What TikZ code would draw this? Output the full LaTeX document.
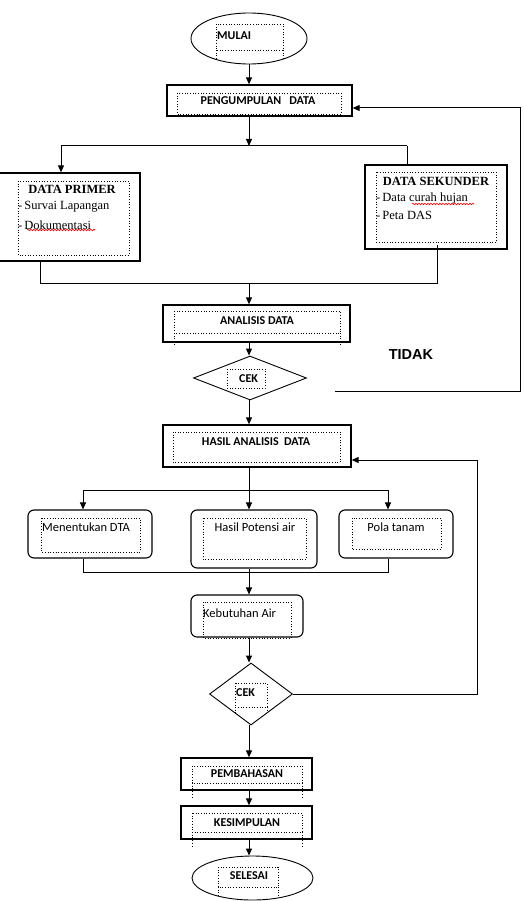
\documentclass[tikz,border=0pt]{standalone}
\usepackage{fontspec}
\setmainfont{Carlito}
\newfontfamily\tnr{Liberation Serif}
\newfontfamily\arialf{Liberation Sans}
\usetikzlibrary{shapes.geometric,arrows.meta,decorations.pathmorphing}
\begin{document}
\begin{tikzpicture}[x=1pt,y=-1pt,
 box/.style={draw,line width=1.3pt,rectangle,inner sep=0pt},
 rbox/.style={draw,line width=1.1pt,rectangle,rounded corners=6pt,inner sep=0pt},
 oval/.style={draw,line width=0.9pt,ellipse,inner sep=0pt},
 dia/.style={draw,line width=0.9pt,diamond,inner sep=0pt},
 dotbox/.style={dotted,line width=0.7pt},
 arr/.style={line width=1pt,-{Triangle[length=7pt,width=6pt]}},
 ln/.style={line width=1pt},
 bt/.style={font=\bfseries\fontsize{12}{14}\selectfont,inner sep=0pt},
 rt/.style={font=\fontsize{12.5}{15}\selectfont,inner sep=0pt},
 tb/.style={font=\tnr\bfseries\fontsize{12.5}{15}\selectfont,inner sep=0pt},
 tr/.style={font=\tnr\fontsize{12.5}{15}\selectfont,inner sep=0pt},
 wavy/.style={red,line width=0.6pt,decorate,decoration={snake,amplitude=0.8pt,segment length=3pt}}
]
\useasboundingbox (0,0) rectangle (524,901);
\coordinate (ax) at (249,0);

% shapes
\node[oval,minimum width=116pt,minimum height=51pt] (mulai) at (249,38.5) {};
\node[box,minimum width=185pt,minimum height=31pt] (peng) at (259.5,100.5) {};
\node[box,minimum width=150pt,minimum height=88pt] (prim) at (65,217) {};
\node[box,minimum width=142pt,minimum height=84pt] (sek) at (436,207) {};
\node[box,minimum width=187pt,minimum height=37pt] (anal) at (256.5,323.5) {};
\node[dia,minimum width=113pt,minimum height=44pt] (cek1) at (250,378) {};
\node[box,minimum width=188pt,minimum height=42pt] (hasil) at (257,446) {};
\node[rbox,minimum width=124pt,minimum height=48pt] (dta) at (90,534) {};
\node[rbox,minimum width=126pt,minimum height=58pt] (pot) at (254,539) {};
\node[rbox,minimum width=114pt,minimum height=48pt] (pola) at (396,534) {};
\node[rbox,minimum width=112pt,minimum height=42pt] (keb) at (247,616) {};
\node[dia,minimum width=83pt,minimum height=62pt] (cek2) at (251,694) {};
\node[box,minimum width=131pt,minimum height=32pt] (pemb) at (246.5,774) {};
\node[box,minimum width=131pt,minimum height=33pt] (kes) at (246.5,822.5) {};
\node[oval,minimum width=121pt,minimum height=44pt] (sel) at (252.5,878) {};

% dotted inner text frames
\draw[dotbox] (216,24) rectangle (283,50);
\draw[dotbox] (216,50) -- (216,60) (283,50) -- (283,60);
\draw[dotbox] (177,93) rectangle (341,114);
\draw[dotbox] (18,181) rectangle (129,255);
\draw[dotbox] (376,172) rectangle (496,242);
\draw[dotbox] (174,311) rectangle (340,333);
\draw[dotbox] (174,333) -- (174,345) (340,333) -- (340,345);
\draw[dotbox] (227,369) rectangle (265,388);
\draw[dotbox] (173,432) rectangle (340,462);
\draw[dotbox] (41,518) rectangle (140,552);
\draw[dotbox] (203,518) rectangle (306,559);
\draw[dotbox] (352,518) rectangle (441,549);
\draw[dotbox] (203,602) rectangle (291,638);
\draw[dotbox] (235,683) rectangle (267,707);
\draw[dotbox] (235,707) -- (235,713) (267,707) -- (267,713);
\draw[dotbox] (192,766) rectangle (302,783);
\draw[dotbox] (192,783) -- (192,797) (302,783) -- (302,797);
\draw[dotbox] (192,813) rectangle (302,832);
\draw[dotbox] (192,832) -- (192,848) (302,832) -- (302,848);
\draw[dotbox] (218,867) rectangle (278,887);
\draw[dotbox] (218,887) -- (218,897) (278,887) -- (278,897);

% texts
\node[bt,anchor=west] (tmulai) at (217,36) {MULAI};
\node[bt] (tpeng) at (258,101) {PENGUMPULAN\ \ \ DATA};
\node[tb] (tprim) at (72,189) {DATA PRIMER};
\node[tr,anchor=west] (tprim1) at (18,207) {-\,Survai Lapangan};
\node[tr,anchor=west] (tprim2) at (18,225) {-\,Dokumentasi};
\node[tb] (tsek) at (436,181) {DATA SEKUNDER};
\node[tr,anchor=west] (tsek1) at (376,198) {-\,Data curah hujan};
\node[tr,anchor=west] (tsek2) at (376,215) {-\,Peta DAS};
\node[bt] (tanal) at (257,321) {ANALISIS DATA};
\node[font=\arialf\bfseries\fontsize{14.5}{17}\selectfont,inner sep=0pt] (ttidak) at (411,355) {TIDAK};
\node[bt,anchor=west] (tcek1) at (239,379) {CEK};
\node[bt] (thasil) at (256,442) {HASIL ANALISIS\ \ DATA};
\node[rt,anchor=west] (tdta) at (42,527) {Menentukan DTA};
\node[rt] (tpot) at (255,527) {Hasil Potensi air};
\node[rt] (tpola) at (396,527) {Pola tanam};
\node[rt,anchor=west] (tkeb) at (203,613) {Kebutuhan Air};
\node[bt,anchor=west] (tcek2) at (236,693) {CEK};
\node[bt] (tpemb) at (247,774) {PEMBAHASAN};
\node[bt] (tkes) at (247,823) {KESIMPULAN};
\node[bt] (tsel) at (249,876) {SELESAI};

% spell-check underlines
\draw[wavy] (27,230) -- (95,230);
\draw[wavy] (412,204) -- (474,204);

% connectors
\coordinate (pl) at (61,146);
\coordinate (pr) at (407,146);
\coordinate (ml) at (40,283);
\coordinate (mr) at (437,283);
\coordinate (fb1) at (335,391);
\coordinate (fb2) at (520,391);
\coordinate (fb3) at (520,108);
\coordinate (sl) at (83,490);
\coordinate (sr) at (388,490);
\coordinate (bl) at (83,572);
\coordinate (br) at (388,572);
\coordinate (fc1) at (477,694);
\coordinate (fc2) at (477,460);

\draw[arr] (mulai.south) -- (ax |- peng.north);
\draw[arr] (ax |- peng.south) -- (ax |- pl);
\draw[ln] (pl) -- (pr);
\draw[arr] (pl) -- (pl |- prim.north);
\draw[ln] (pr) -- (pr |- sek.north);
\draw[ln] (ml |- prim.south) -- (ml) -- (mr) -- ([yshift=5pt]mr |- sek.south);
\draw[arr] (ax |- ml) -- (ax |- anal.north);
\draw[arr] (ax |- anal.south) -- (ax |- cek1.north);
\draw[arr] (fb1) -- (fb2) -- (fb3) -- (peng.east |- fb3);
\draw[arr] (ax |- cek1.south) -- (ax |- hasil.north);
\draw[ln] (ax |- hasil.south) -- (ax |- sl);
\draw[ln] (sl) -- (sr);
\draw[arr] (sl) -- (sl |- dta.north);
\draw[arr] (ax |- sl) -- (ax |- pot.north);
\draw[arr] (sr) -- (sr |- pola.north);
\draw[ln] (bl |- dta.south) -- (bl) -- (br) -- (br |- pola.south);
\draw[ln] (ax |- pot.south) -- (ax |- bl);
\draw[arr] (ax |- bl) -- (ax |- keb.north);
\draw[arr] (ax |- keb.south) -- (ax |- cek2.north);
\draw[arr] (cek2.east) -- (fc1) -- (fc2) -- (hasil.east |- fc2);
\draw[arr] (ax |- cek2.south) -- (ax |- pemb.north);
\draw[arr] (ax |- pemb.south) -- (ax |- kes.north);
\draw[arr] (ax |- kes.south) -- (ax |- sel.north);
\end{tikzpicture}
\end{document}
